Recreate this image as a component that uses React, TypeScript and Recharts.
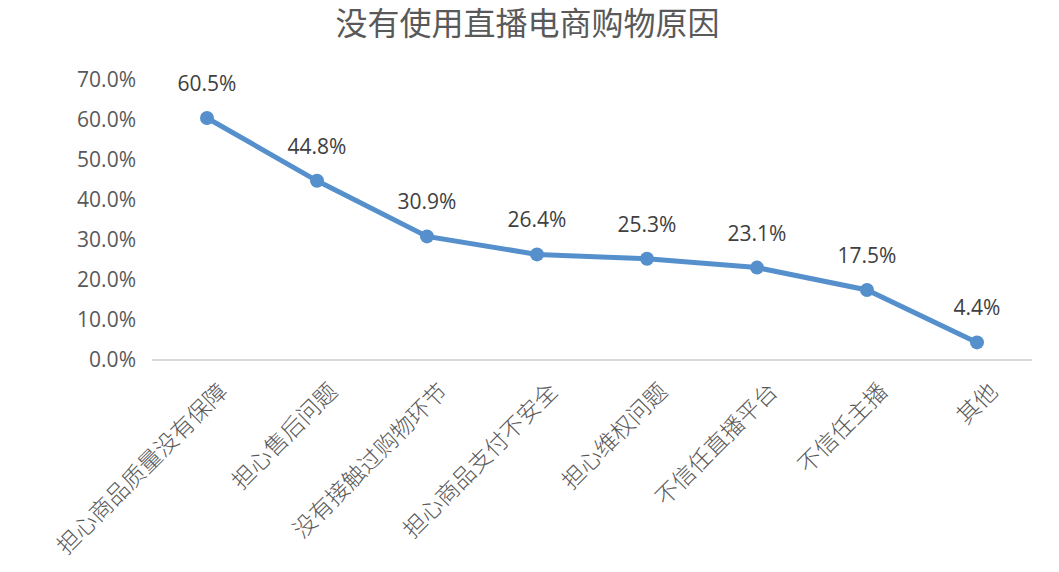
import React from 'react';
import { LineChart, Line, XAxis, YAxis, LabelList } from 'recharts';

const title = '没有使用直播电商购物原因';
const categories = [
  '担心商品质量没有保障',
  '担心售后问题',
  '没有接触过购物环节',
  '担心商品支付不安全',
  '担心维权问题',
  '不信任直播平台',
  '不信任主播',
  '其他',
];
const values = [0.605, 0.448, 0.309, 0.264, 0.253, 0.231, 0.175, 0.044];
const yTicks = [0, 0.1, 0.2, 0.3, 0.4, 0.5, 0.6, 0.7];

const data = categories.map((c, i) => ({ name: c, value: values[i] }));

const pct = (v: number) => (v * 100).toFixed(1) + '%';
const NUM_FONT = '"Open Sans", "Noto Sans", sans-serif';
const CJK_FONT = '"Noto Sans CJK SC", sans-serif';
const LINE_COLOR = '#5590CD';

const CatTick = (props: any) => {
  const { x, y, payload } = props;
  return (
    <text
      transform={`translate(${x + 15},${y + 26}) rotate(-45)`}
      textAnchor="end"
      dominantBaseline="central"
      fontSize={23}
      fontWeight={300}
      fontFamily={CJK_FONT}
      fill="#595959"
    >
      {payload.value}
    </text>
  );
};

const ValueLabel = (props: any) => {
  const { x, y, value } = props;
  return (
    <text
      x={x}
      y={y - 27}
      textAnchor="middle"
      fontSize={21}
      fontFamily={NUM_FONT}
      fill="#404040"
    >
      {pct(value)}
    </text>
  );
};

export default function App() {
  return (
    <div style={{ position: 'absolute', left: 0, top: 0, width: 1059, height: 572, background: '#fff' }}>
      <div
        style={{
          position: 'absolute',
          left: 0,
          top: -2,
          width: 1055,
          textAlign: 'center',
          fontFamily: CJK_FONT,
          fontSize: 32,
          lineHeight: '46px',
          color: '#595959',
        }}
      >
        {title}
      </div>
      <LineChart
        width={1059}
        height={572}
        data={data}
        margin={{ top: 80, right: 27, bottom: 12, left: 8 }}
      >
        <XAxis
          dataKey="name"
          padding={{ left: 55, right: 55 }}
          tick={<CatTick />}
          tickLine={false}
          tickSize={0}
          tickMargin={0}
          interval={0}
          height={200}
          axisLine={{ stroke: '#d9d9d9', strokeWidth: 2 }}
        />
        <YAxis
          domain={[0, 0.7]}
          ticks={yTicks}
          tickFormatter={pct}
          axisLine={false}
          tickLine={false}
          tickSize={0}
          tickMargin={16}
          width={144}
          interval={0}
          tick={{ fontSize: 21, fontFamily: NUM_FONT, fill: '#595959' }}
        />
        <Line
          type="linear"
          dataKey="value"
          stroke={LINE_COLOR}
          strokeWidth={5}
          dot={{ r: 7, fill: LINE_COLOR, stroke: LINE_COLOR, strokeWidth: 0 }}
          activeDot={false}
          isAnimationActive={false}
        >
          <LabelList dataKey="value" content={<ValueLabel />} />
        </Line>
      </LineChart>
    </div>
  );
}
